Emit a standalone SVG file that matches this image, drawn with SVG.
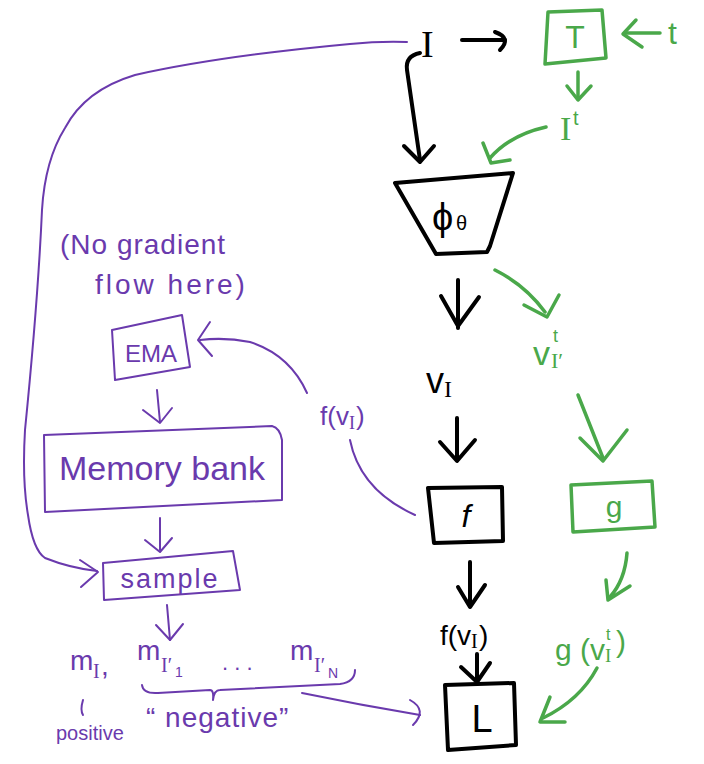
<svg xmlns="http://www.w3.org/2000/svg" width="704" height="764" viewBox="0 0 704 764">
<style>
.k{stroke:#000;fill:none;stroke-width:4;stroke-linecap:round;stroke-linejoin:round}
.g{stroke:#4aa84a;fill:none;stroke-width:3.5;stroke-linecap:round;stroke-linejoin:round}
.p{stroke:#6a3aad;fill:none;stroke-width:2;stroke-linecap:round;stroke-linejoin:round}
.tk{fill:#000;font-family:"Liberation Sans",sans-serif}
.tg{fill:#4aa84a;font-family:"Liberation Sans",sans-serif}
.tp{fill:#6a3aad;font-family:"Liberation Sans",sans-serif}
.sf{font-family:"Liberation Serif",serif}
</style>
<rect width="704" height="764" fill="#fff"/>
<g id="connectors">
  <!-- black -->
  <path class="k" d="M462 40 L505 40"/><path class="k" d="M495 32 Q512 38 500 50"/>
  <path class="k" d="M420 53 Q405 56 407 70 L420 160"/><path class="k" d="M404 146 L420 162 L434 146"/>
  <path class="k" d="M458 280 L458 328"/><path class="k" d="M441 296 L458 326 L479 297"/>
  <path class="k" d="M457 418 L457 460"/><path class="k" d="M440 442 L457 461 L475 440"/>
  <path class="k" d="M470 562 L470 605"/><path class="k" d="M458 587 L470 607 L485 585"/>
  <path class="k" d="M477 654 L477 682"/><path class="k" d="M461 667 L477 682 L490 663"/>
  <!-- green -->
  <path class="g" d="M660 33 L625 33"/><path class="g" d="M636 20 L623 34 L642 47"/>
  <path class="g" d="M578 72 L578 98"/><path class="g" d="M567 86 L578 100 L591 86"/>
  <path class="g" d="M546 127 Q510 135 490 158"/><path class="g" d="M483 143 L491 163 L510 160"/>
  <path class="g" d="M495 270 Q525 285 545 312"/><path class="g" d="M524 305 L547 317 L559 295"/>
  <path class="g" d="M578 395 L603 458"/><path class="g" d="M580 438 L603 461 L627 430"/>
  <path class="g" d="M627 553 Q625 580 610 597"/><path class="g" d="M606 580 L608 600 L630 586"/>
  <path class="g" d="M597 668 Q580 700 543 718"/><path class="g" d="M550 697 L540 722 L565 722"/>
  <!-- purple -->
  <path class="p" d="M407 42 Q380 41 350 44 Q220 56 135 75 Q85 90 65 128 Q45 160 42 210 Q38 300 25 430 Q22 480 28 515 Q33 550 45 558 Q70 568 97 571"/>
  <path class="p" d="M80 560 L98 572 L81 587"/>
  <path class="p" d="M307 393 Q290 355 250 342 Q225 337 200 340"/><path class="p" d="M210 322 L198 340 L212 356"/>
  <path class="p" d="M350 440 Q360 490 415 515"/>
  <path class="p" d="M157 390 L160 422"/><path class="p" d="M143 410 L160 423 L172 408"/>
  <path class="p" d="M160 518 L160 550"/><path class="p" d="M145 540 L160 552 L172 538"/>
  <path class="p" d="M167 605 L170 640"/><path class="p" d="M156 625 L170 640 L183 624"/>
  <path class="p" d="M142 685 Q143 694 158 693 L210 690 Q214 690 213 700 Q214 690 220 690 L340 684 Q355 682 355 670"/>
  <path class="p" d="M302 693 Q360 705 420 715"/><path class="p" d="M410 700 Q428 710 413 725"/>
  <path class="p" d="M83 700 Q80 710 83 715"/>
</g>
<g id="node-I"><text class="tk sf" x="421" y="57" font-size="38">I</text></g>
<g id="node-T">
  <path class="g" d="M548 12 L602 10 L606 58 L545 64 Z"/>
  <text class="tg" x="575" y="48" font-size="32" text-anchor="middle">T</text>
</g>
<g id="node-t"><text class="tg" x="668" y="44" font-size="32">t</text></g>
<g id="node-It">
  <text class="tg sf" x="560" y="140" font-size="34">I</text>
  <text class="tg" x="573" y="125" font-size="20">t</text>
</g>
<g id="node-phi">
  <path class="k" d="M395 183 L513 173 L490 246 L487 252 L436 254 Z"/>
  <text class="tk" x="432" y="230" font-size="38">ϕ</text>
  <text class="tk" x="456" y="230" font-size="20">θ</text>
</g>
<g id="node-vI">
  <text class="tk" x="426" y="393" font-size="36">v</text>
  <text class="tk sf" x="444" y="397" font-size="24">I</text>
</g>
<g id="node-vIt">
  <text class="tg" x="533" y="365" font-size="34">v</text>
  <text class="tg" x="553" y="342" font-size="18">t</text>
  <text class="tg sf" x="551" y="368" font-size="22">I′</text>
</g>
<g id="node-f">
  <path class="k" d="M428 488 L502 487 L503 541 L434 543 Z"/>
  <text class="tk" x="466" y="527" font-size="32" font-style="italic" text-anchor="middle">f</text>
</g>
<g id="node-g">
  <path class="g" d="M571 485 L652 481 L655 527 L573 532 Z"/>
  <text class="tg" x="614" y="517" font-size="30" text-anchor="middle">g</text>
</g>
<g id="node-fvI">
  <text class="tk" x="440" y="645" font-size="28">f(v</text>
  <text class="tk sf" x="471" y="648" font-size="20">I</text>
  <text class="tk" x="479" y="645" font-size="28">)</text>
</g>
<g id="node-gvIt">
  <text class="tg" x="555" y="660" font-size="30">g (v</text>
  <text class="tg" x="606" y="640" font-size="16">t</text>
  <text class="tg sf" x="605" y="662" font-size="19">I</text>
  <text class="tg" x="616" y="652" font-size="30">)</text>
</g>
<g id="node-L">
  <path class="k" d="M445 685 L514 683 L516 745 L448 750 Z"/>
  <text class="tk" x="482" y="732" font-size="38" text-anchor="middle">L</text>
</g>
<g id="node-note">
  <text class="tp" x="60" y="254" font-size="28" letter-spacing="1">(No gradient</text>
  <text class="tp" x="95" y="294" font-size="28" letter-spacing="3">flow here)</text>
</g>
<g id="node-EMA">
  <path class="p" d="M112 330 L182 315 L190 367 L115 380 Z"/>
  <text class="tp" x="151" y="362" font-size="24" text-anchor="middle">EMA</text>
</g>
<g id="node-fvI-p">
  <text class="tp" x="320" y="425" font-size="26">f(v</text>
  <text class="tp sf" x="349" y="429" font-size="18">I</text>
  <text class="tp" x="356" y="425" font-size="26">)</text>
</g>
<g id="node-mem">
  <path class="p" d="M44 435 L272 426 Q280 428 282 440 L282 500 L45 512 Z"/>
  <text class="tp" x="162" y="480" font-size="34" text-anchor="middle">Memory bank</text>
</g>
<g id="node-sample">
  <path class="p" d="M103 563 L233 551 L240 590 L104 600 Z"/>
  <text class="tp" x="170" y="588" font-size="27" letter-spacing="2" text-anchor="middle">sample</text>
</g>
<g id="node-m">
  <text class="tp" x="70" y="670" font-size="28">m</text>
  <text class="tp sf" x="93" y="678" font-size="20">I</text>
  <text class="tp" x="101" y="675" font-size="28">,</text>
  <text class="tp" x="137" y="660" font-size="28">m</text>
  <text class="tp sf" x="161" y="672" font-size="20">I′</text>
  <text class="tp" x="175" y="677" font-size="14">1</text>
  <text class="tp" x="222" y="670" font-size="22">. . .</text>
  <text class="tp" x="290" y="660" font-size="28">m</text>
  <text class="tp sf" x="314" y="672" font-size="20">I′</text>
  <text class="tp" x="328" y="678" font-size="14">N</text>
  <text class="tp" x="56" y="740" font-size="20">positive</text>
  <text class="tp" x="146" y="727" font-size="28" letter-spacing="1">“ negative”</text>
</g>
</svg>
